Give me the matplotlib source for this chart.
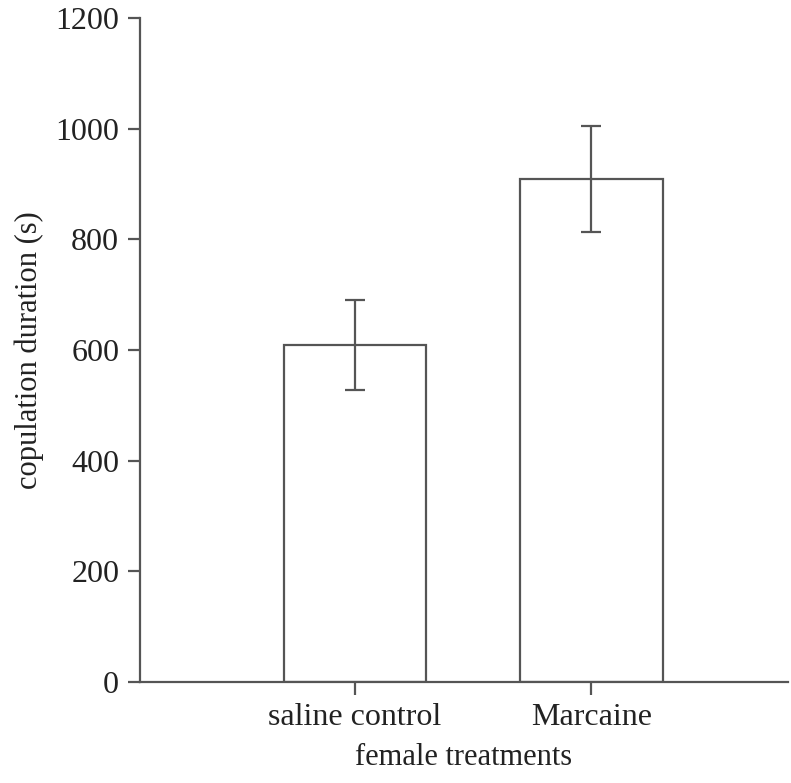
import matplotlib
matplotlib.use("Agg")
import matplotlib.pyplot as plt

categories = ["saline control", "Marcaine"]
means = [609, 909]
errors = [82, 96]
yticks = [0, 200, 400, 600, 800, 1000, 1200]

plt.rcParams['font.family'] = ['Liberation Serif', 'DejaVu Serif']
col = '#555555'

fig = plt.figure(figsize=(7.91, 7.83), dpi=100)
ax = fig.add_axes([140/791, 1-682/783, (788-140)/791, (682-18)/783])
x = [1, 2]
ax.bar(x, means, width=0.6, facecolor='white', edgecolor=col, linewidth=1.6, zorder=2)
ax.errorbar(x, means, yerr=errors, fmt='none', ecolor=col, elinewidth=1.6,
            capsize=7, capthick=1.6, zorder=3)
ax.set_xlim(0.093, 2.83)
ax.set_ylim(0, 1200)
ax.set_yticks(yticks)
ax.set_xticks(x)
ax.set_xticklabels(categories)
for s in ['top', 'right']:
    ax.spines[s].set_visible(False)
for s in ['left', 'bottom']:
    ax.spines[s].set_color(col)
    ax.spines[s].set_linewidth(1.6)
ax.tick_params(axis='both', colors=col, width=1.6, length=9, labelsize=23,
               labelcolor='#222222', pad=6)
ax.set_ylabel("copulation duration (s)", fontsize=22, color='#222222', labelpad=8)
ax.set_xlabel("female treatments", fontsize=22, color='#222222', labelpad=8)
fig.savefig("out.png", dpi=100)
